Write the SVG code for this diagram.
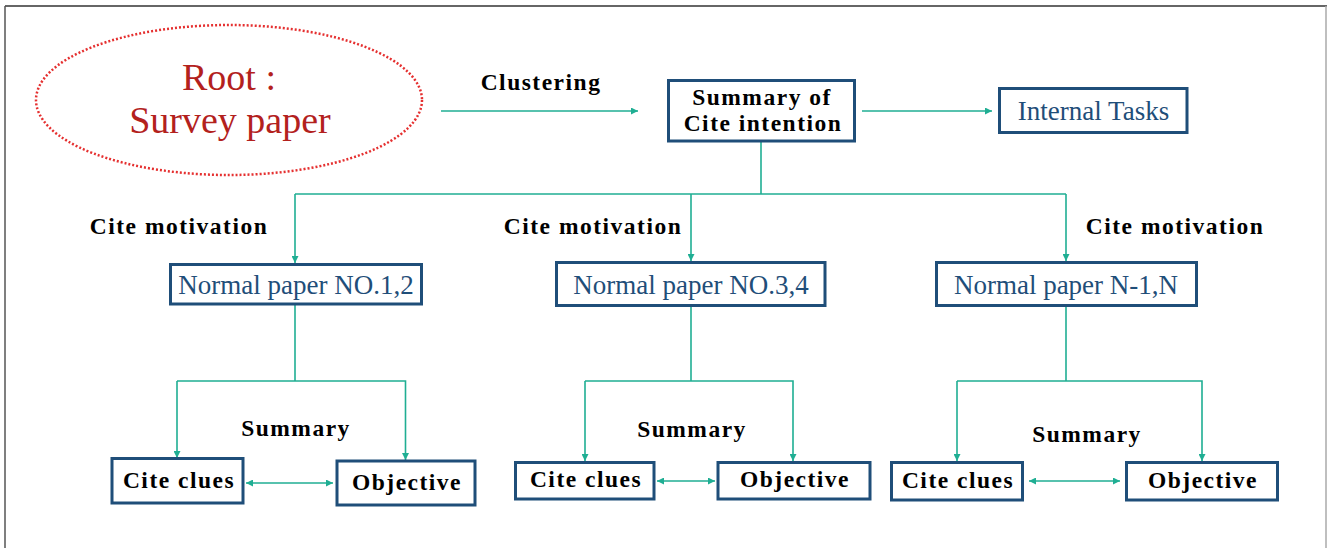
<svg xmlns="http://www.w3.org/2000/svg" width="1327" height="548" viewBox="0 0 1327 548">
<defs>
<marker id="ah" viewBox="0 0 10 10" refX="10" refY="5" markerWidth="7" markerHeight="7" markerUnits="userSpaceOnUse" orient="auto-start-reverse">
<path d="M0,0 L10,5 L0,10 z" fill="#1fae93"/>
</marker>
<style>
.bx{fill:#fff;stroke:#1f4e79;stroke-width:3}
.lbl{font-family:"Liberation Serif","Times New Roman",serif;font-weight:bold;font-size:23.5px;fill:#000;letter-spacing:1.5px;text-anchor:middle}
.blue{font-family:"Liberation Serif","Times New Roman",serif;font-size:27px;fill:#1f4e79;text-anchor:middle}
.red{font-family:"Liberation Serif","Times New Roman",serif;font-size:38px;fill:#b3211d;text-anchor:middle}
.cn{fill:none;stroke:#1fae93;stroke-width:1.6}
</style>
</defs>
<rect width="1327" height="548" fill="#fff"/>
<g id="frame">
<line x1="5" y1="6" x2="1327" y2="6" stroke="#666" stroke-width="2"/>
<line x1="5" y1="6" x2="5" y2="548" stroke="#555" stroke-width="1.5"/>
<line x1="1326" y1="6" x2="1326" y2="548" stroke="#aaa" stroke-width="1.5"/>
</g>
<g id="connectors">
<line class="cn" x1="441" y1="111" x2="638" y2="111" marker-end="url(#ah)"/>
<line class="cn" x1="862" y1="111" x2="992" y2="111" marker-end="url(#ah)"/>
<polyline class="cn" points="761,142 761,194"/>
<line class="cn" x1="295" y1="194" x2="1066" y2="194"/>
<polyline class="cn" points="295,194 295,263" marker-end="url(#ah)"/>
<polyline class="cn" points="691,194 691,261" marker-end="url(#ah)"/>
<polyline class="cn" points="1066,194 1066,261" marker-end="url(#ah)"/>
<polyline class="cn" points="295,305 295,381"/>
<polyline class="cn" points="177,381 405.5,381 405.5,460" marker-end="url(#ah)"/>
<line class="cn" x1="177" y1="381" x2="177" y2="458" marker-end="url(#ah)"/>
<polyline class="cn" points="691,306 691,381"/>
<polyline class="cn" points="585,381 793,381 793,461" marker-end="url(#ah)"/>
<line class="cn" x1="585" y1="381" x2="585" y2="461" marker-end="url(#ah)"/>
<polyline class="cn" points="1066,306 1066,381"/>
<polyline class="cn" points="957,381 1202,381 1202,461" marker-end="url(#ah)"/>
<line class="cn" x1="957" y1="381" x2="957" y2="461" marker-end="url(#ah)"/>
<line class="cn" x1="246" y1="483" x2="333" y2="483" marker-start="url(#ah)" marker-end="url(#ah)"/>
<line class="cn" x1="657" y1="481" x2="715" y2="481" marker-start="url(#ah)" marker-end="url(#ah)"/>
<line class="cn" x1="1029" y1="481" x2="1120" y2="481" marker-start="url(#ah)" marker-end="url(#ah)"/>
</g>
<g id="labels">
<text class="lbl" x="541" y="90">Clustering</text>
<text class="lbl" x="179" y="234">Cite motivation</text>
<text class="lbl" x="593" y="234">Cite motivation</text>
<text class="lbl" x="1175" y="234">Cite motivation</text>
<text class="lbl" x="296" y="436">Summary</text>
<text class="lbl" x="692" y="437">Summary</text>
<text class="lbl" x="1087" y="442">Summary</text>
</g>
<g id="root">
<ellipse cx="229" cy="100" rx="193" ry="75" fill="none" stroke="#e53030" stroke-width="2.5" stroke-dasharray="2 2"/>
<text class="red" x="229" y="90">Root :</text>
<text class="red" x="230" y="133">Survey paper</text>
</g>
<g id="summary">
<rect class="bx" x="668.5" y="80.5" width="186" height="60.5"/>
<text class="lbl" x="762" y="105">Summary of</text>
<text class="lbl" x="763" y="131">Cite intention</text>
</g>
<g id="internal">
<rect class="bx" x="999.5" y="88.5" width="187.5" height="44"/>
<text class="blue" x="1093.5" y="120">Internal Tasks</text>
</g>
<g id="paper12">
<rect class="bx" x="170.5" y="264.5" width="251" height="39.5"/>
<text class="blue" x="296" y="294">Normal paper NO.1,2</text>
</g>
<g id="paper34">
<rect class="bx" x="556.5" y="262.5" width="268.5" height="43"/>
<text class="blue" x="691" y="294">Normal paper NO.3,4</text>
</g>
<g id="paperN">
<rect class="bx" x="936.5" y="262.5" width="260" height="43"/>
<text class="blue" x="1066" y="294">Normal paper N-1,N</text>
</g>
<g id="clues1">
<rect class="bx" x="112" y="458.5" width="131" height="44.5"/>
<text class="lbl" x="179" y="488">Cite clues</text>
</g>
<g id="obj1">
<rect class="bx" x="337" y="461" width="138" height="44"/>
<text class="lbl" x="407" y="490">Objective</text>
</g>
<g id="clues2">
<rect class="bx" x="515.5" y="462.5" width="138.5" height="36.5"/>
<text class="lbl" x="586" y="487">Cite clues</text>
</g>
<g id="obj2">
<rect class="bx" x="718" y="462.5" width="152" height="36.5"/>
<text class="lbl" x="795" y="487">Objective</text>
</g>
<g id="clues3">
<rect class="bx" x="891.5" y="462.5" width="131" height="37.5"/>
<text class="lbl" x="958" y="488">Cite clues</text>
</g>
<g id="obj3">
<rect class="bx" x="1126.5" y="462.5" width="151" height="37.5"/>
<text class="lbl" x="1203" y="488">Objective</text>
</g>
</svg>
